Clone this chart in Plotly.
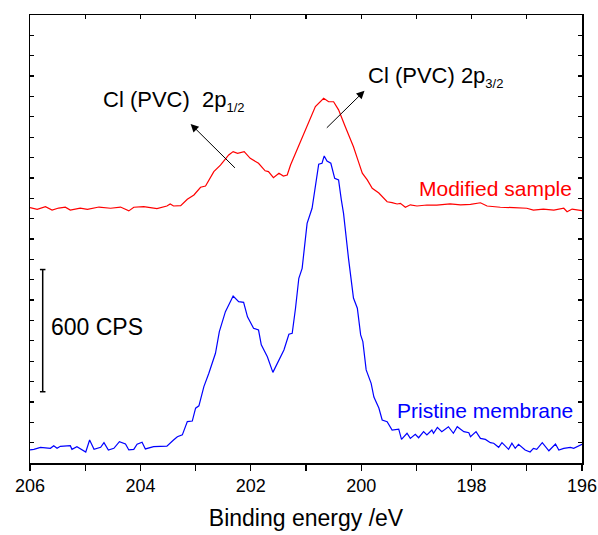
import plotly.graph_objects as go

# Binding energy (eV) and intensity (CPS, offset)
pristine_be = [206.00, 205.93, 205.81, 205.63, 205.57, 205.51, 205.45, 205.27, 205.24, 205.15,
               204.99, 204.92, 204.84, 204.72, 204.66, 204.58, 204.48, 204.38, 204.27, 204.21,
               204.12, 204.06, 203.97, 203.91, 203.76, 203.58, 203.52, 203.40, 203.33, 203.24,
               203.15, 203.06, 203.00, 202.94, 202.85, 202.76, 202.64, 202.57, 202.46, 202.32,
               202.22, 202.13, 202.06, 201.95, 201.86, 201.81, 201.70, 201.60, 201.52, 201.40,
               201.31, 201.25, 201.19, 201.13, 201.07, 200.98, 200.89, 200.83, 200.77, 200.71,
               200.67, 200.62, 200.55, 200.48, 200.41, 200.36, 200.32, 200.23, 200.14, 200.07,
               200.01, 199.97, 199.91, 199.82, 199.77, 199.68, 199.62, 199.53, 199.44, 199.32,
               199.27, 199.17, 199.11, 199.02, 198.96, 198.87, 198.81, 198.72, 198.69, 198.62,
               198.54, 198.42, 198.33, 198.26, 198.14, 198.05, 198.02, 197.92, 197.84, 197.75,
               197.66, 197.60, 197.51, 197.45, 197.33, 197.27, 197.21, 197.15, 197.03, 196.94,
               196.88, 196.82, 196.72, 196.60, 196.48, 196.42, 196.33, 196.21, 196.15, 196.00]
pristine_cps = [64, 67, 77, 72, 85, 72, 82, 85, 67, 80,
                54, 113, 67, 77, 100, 64, 72, 105, 93, 64,
                67, 92, 102, 69, 80, 85, 83, 113, 129, 138,
                203, 206, 269, 281, 375, 441, 539, 645, 743, 820,
                792, 789, 718, 662, 653, 580, 522, 445, 490, 555,
                632, 637, 760, 907, 956, 1177, 1251, 1365, 1467, 1472,
                1508, 1483, 1472, 1398, 1390, 1292, 1226, 1005, 810, 760,
                629, 596, 457, 391, 324, 270, 211, 203, 162, 166,
                116, 146, 121, 141, 124, 154, 138, 162, 146, 175,
                154, 178, 146, 178, 154, 149, 129, 154, 121, 116,
                100, 97, 77, 100, 67, 97, 72, 92, 64, 54,
                72, 67, 100, 60, 93, 64, 72, 77, 72, 92]

modified_be = [206.00, 205.87, 205.72, 205.60, 205.48, 205.36, 205.27, 205.09, 204.96, 204.75,
               204.54, 204.36, 204.21, 204.12, 203.94, 203.70, 203.52, 203.46, 203.40, 203.27,
               203.15, 203.03, 202.91, 202.82, 202.67, 202.55, 202.40, 202.32, 202.24, 202.12,
               202.01, 201.86, 201.74, 201.68, 201.59, 201.49, 201.41, 201.34, 201.28, 201.19,
               201.10, 200.98, 200.83, 200.68, 200.59, 200.50, 200.41, 200.29, 200.20, 200.14,
               200.07, 200.01, 199.98, 199.89, 199.80, 199.68, 199.53, 199.44, 199.35, 199.29,
               199.20, 199.11, 198.99, 198.81, 198.63, 198.39, 198.20, 198.02, 197.84, 197.72,
               197.48, 197.24, 197.00, 196.88, 196.70, 196.51, 196.33, 196.27, 196.18, 196.00]
modified_cps = [1254, 1246, 1259, 1242, 1252, 1256, 1242, 1252, 1246, 1257,
                1251, 1257, 1238, 1256, 1259, 1249, 1262, 1272, 1262, 1264,
                1295, 1316, 1354, 1360, 1431, 1463, 1513, 1529, 1521, 1529,
                1496, 1472, 1435, 1431, 1401, 1423, 1409, 1414, 1463, 1521,
                1572, 1652, 1750, 1791, 1774, 1774, 1734, 1652, 1595, 1553,
                1496, 1439, 1423, 1390, 1349, 1326, 1283, 1279, 1272, 1275,
                1256, 1268, 1262, 1267, 1266, 1272, 1268, 1270, 1278, 1262,
                1256, 1254, 1251, 1242, 1247, 1242, 1251, 1234, 1247, 1239]

x_range = [206, 196]
y_range = [0, 2200]
x_ticks = [206, 204, 202, 200, 198, 196]

scale_bar_x = 205.77
scale_bar_low = 350
scale_bar_high = 950
scale_bar_cap = 0.05

FONT = "Arial, Liberation Sans, sans-serif"
SUB = '<sub><span style="font-size:13px">{}</span></sub>'

fig = go.Figure()
fig.add_trace(go.Scatter(x=pristine_be, y=pristine_cps, mode="lines",
                         line=dict(color="#0000ff", width=1.2), showlegend=False))
fig.add_trace(go.Scatter(x=modified_be, y=modified_cps, mode="lines",
                         line=dict(color="#ff0000", width=1.2), showlegend=False))
# invisible trace for top axis
fig.add_trace(go.Scatter(x=x_range, y=y_range, mode="markers", xaxis="x2",
                         marker=dict(opacity=0), hoverinfo="skip", showlegend=False))

# scale bar
fig.add_shape(type="line", x0=scale_bar_x, x1=scale_bar_x, y0=scale_bar_low, y1=scale_bar_high,
              line=dict(color="black", width=1.5))
for yy in (scale_bar_low, scale_bar_high):
    fig.add_shape(type="line", x0=scale_bar_x - scale_bar_cap, x1=scale_bar_x + scale_bar_cap,
                  y0=yy, y1=yy, line=dict(color="black", width=1.5))

ann = [
    dict(x=205.65, y=668, text="600 CPS", xanchor="left", yanchor="middle",
         font=dict(size=23, color="black")),
    dict(x=204.72, y=1778, text="Cl (PVC)&nbsp; 2p" + SUB.format("1/2"), xanchor="left", yanchor="middle",
         font=dict(size=22, color="black")),
    dict(x=199.91, y=1896, text="Cl (PVC) 2p" + SUB.format("3/2"), xanchor="left", yanchor="middle",
         font=dict(size=22, color="black")),
    dict(x=196.15, y=1346, text="Modified sample", xanchor="right", yanchor="middle",
         font=dict(size=21, color="#ff0000")),
    dict(x=196.12, y=257, text="Pristine membrane", xanchor="right", yanchor="middle",
         font=dict(size=21, color="#0000ff")),
]
for a in ann:
    fig.add_annotation(showarrow=False, xref="x", yref="y", **a)

# arrows
fig.add_annotation(x=203.09, y=1665, ax=202.26, ay=1442, xref="x", yref="y", axref="x", ayref="y",
                   text="", showarrow=True, arrowhead=2, arrowsize=1.6, arrowwidth=1, arrowcolor="black")
fig.add_annotation(x=199.94, y=1828, ax=200.65, ay=1639, xref="x", yref="y", axref="x", ayref="y",
                   text="", showarrow=True, arrowhead=2, arrowsize=1.6, arrowwidth=1, arrowcolor="black")

fig.update_layout(
    width=598, height=535,
    margin=dict(l=30, r=16, t=15, b=72),
    paper_bgcolor="white", plot_bgcolor="white",
    font=dict(family=FONT, color="black"),
    hovermode=False,
    xaxis=dict(range=x_range, tickvals=x_ticks, ticks="outside", ticklen=6, tickwidth=1.2,
               tickcolor="black", showline=True, linecolor="black", linewidth=1.5,
               showgrid=False, zeroline=False, tickfont=dict(size=18), automargin=False,
               minor=dict(dtick=1, ticks="outside", ticklen=6, tickwidth=1.2, tickcolor="black", showgrid=False),
               title=dict(text="Binding energy /eV", font=dict(size=23))),
    xaxis2=dict(range=x_range, overlaying="x", side="top", dtick=1, ticks="inside", ticklen=4,
                tickwidth=1.2, tickcolor="black", showticklabels=False, showline=True,
                linecolor="black", linewidth=1.5, showgrid=False, zeroline=False, automargin=False),
    yaxis=dict(range=y_range, dtick=100, ticks="inside", ticklen=4, tickwidth=1.2,
               tickcolor="black", showticklabels=False, showline=True, linecolor="black",
               linewidth=1.5, mirror="ticks", showgrid=False, zeroline=False, automargin=False),
)

# remove the browser's default 8px body margin so the figure fills the window exactly
fig.write_html("out.html", config={"displayModeBar": False, "staticPlot": True},
               post_script="document.body.style.margin='0';document.body.style.overflow='hidden';")
